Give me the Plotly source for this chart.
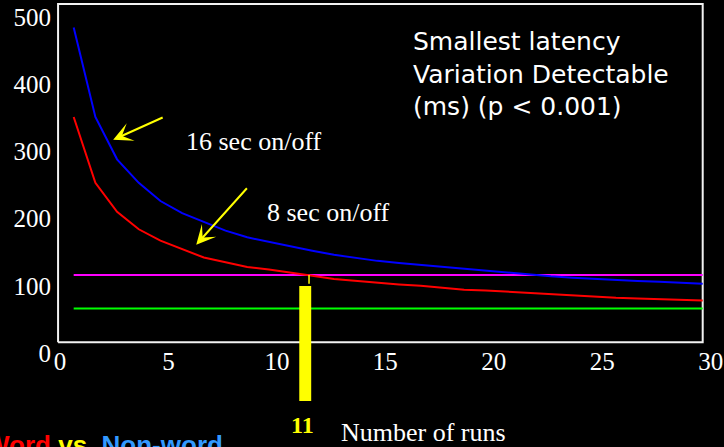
import plotly.graph_objects as go

# Data #
runs = list(range(1, 31))
latency_16s = [484, 351, 288, 253, 226, 208, 195, 182, 172, 165,
               158, 152, 146, 141, 137, 134, 131, 128, 125, 123,
               119, 116, 114, 112, 110, 109, 107, 106, 104, 103]
latency_8s = [351, 253, 210, 184, 167, 154, 142, 135, 128, 124,
              120, 115, 110, 107, 104, 102, 100, 97, 94, 93,
              91, 90, 88, 85, 84, 82, 81, 80, 79, 78]
word_effect = 116      # magenta level
other_effect = 66      # green level
crossing_run = 11
x_ticks = [0, 5, 10, 15, 20, 25, 30]
y_ticks = [0, 100, 200, 300, 400, 500]

# Page geometry (px) #
W, H = 724, 447
L, R, T, B = 52, 20, 2, 94
PW, PH = W - L - R, H - T - B
X_SCALE, Y_SCALE = 21.69, 0.6725   # px per unit


def px_x(px):
    return (px - L) / PW


def px_y(py):
    return (H - B - py) / PH


SERIF = "Liberation Serif"

fig = go.Figure()

# Frame outline (drawn as a plain line path) #
fx0, fx1, fy0, fy1 = 0.28, 30, 16, 519
fig.add_trace(go.Scatter(x=[fx0, fx1, fx1, fx0, fx0], y=[fy0, fy0, fy1, fy1, fy0],
                         mode="lines", line=dict(color="#f2f2f2", width=2), hoverinfo="skip"))

fig.add_trace(go.Scatter(x=[runs[0], runs[-1]], y=[word_effect, word_effect], mode="lines",
                         line=dict(color="#ff00ff", width=2), hoverinfo="skip"))
fig.add_trace(go.Scatter(x=[runs[0], runs[-1]], y=[other_effect, other_effect], mode="lines",
                         line=dict(color="#00ff00", width=2), hoverinfo="skip"))
fig.add_trace(go.Scatter(x=runs, y=latency_16s, mode="lines", name="16 sec on/off",
                         line=dict(color="#0000ff", width=2)))
fig.add_trace(go.Scatter(x=runs, y=latency_8s, mode="lines", name="8 sec on/off",
                         line=dict(color="#ff0000", width=2)))

# Yellow marker at 11 runs #
fig.add_shape(type="rect", xref="x", yref="paper",
              x0=crossing_run + 0.4, x1=crossing_run + 0.95, y0=px_y(401), y1=px_y(286),
              fillcolor="#ffff00", line=dict(width=0))
fig.add_shape(type="line", xref="x", yref="y",
              x0=crossing_run + 0.85, x1=crossing_run + 0.85, y0=word_effect, y1=103,
              line=dict(color="#ffff00", width=1.5))

# Arrows #
fig.add_annotation(x=2.82, y=317, ax=51, ay=-23, text="", showarrow=True,
                   arrowhead=3, arrowsize=1.6, arrowwidth=2, arrowcolor="#ffff00", standoff=0)
fig.add_annotation(x=6.65, y=161, ax=52, ay=-58, text="", showarrow=True,
                   arrowhead=3, arrowsize=1.6, arrowwidth=2, arrowcolor="#ffff00", standoff=0)

# Texts #
fig.add_annotation(xref="paper", yref="paper", x=px_x(411), y=px_y(74),
                   xanchor="left", yanchor="middle", align="left", showarrow=False,
                   text="Smallest latency<br>Variation Detectable<br>(ms) (p &lt; 0.001)",
                   font=dict(family="DejaVu Sans", size=25, color="white"))
fig.add_annotation(xref="paper", yref="paper", x=px_x(184), y=px_y(142),
                   xanchor="left", yanchor="middle", showarrow=False,
                   text="16 sec on/off", font=dict(family=SERIF, size=26, color="white"))
fig.add_annotation(xref="paper", yref="paper", x=px_x(265), y=px_y(212),
                   xanchor="left", yanchor="middle", showarrow=False,
                   text="8 sec on/off", font=dict(family=SERIF, size=26, color="white"))
fig.add_annotation(xref="paper", yref="paper", x=px_x(302), y=px_y(425),
                   xanchor="center", yanchor="middle", showarrow=False,
                   text="<b>%d</b>" % crossing_run, font=dict(family=SERIF, size=24, color="#ffff00"))
fig.add_annotation(xref="paper", yref="paper", x=px_x(339), y=px_y(432),
                   xanchor="left", yanchor="middle", showarrow=False,
                   text="Number of runs", font=dict(family=SERIF, size=26, color="white"))
fig.add_annotation(xref="paper", yref="paper", x=px_x(225), y=px_y(445),
                   xanchor="right", yanchor="middle", showarrow=False,
                   text="<b><span style='color:#ff0000'>Word</span> "
                        "<span style='color:#ffff00'>vs.</span> "
                        "<span style='color:#3399ff'>Non-word</span></b>",
                   font=dict(family="Liberation Sans", size=26, color="white"))

# Layout #
fig.update_layout(width=W, height=H, margin=dict(l=L, r=R, t=T, b=B),
                  paper_bgcolor="black", plot_bgcolor="black", showlegend=False,
                  font=dict(family=SERIF, color="white"))

fig.update_xaxes(range=[0, PW / X_SCALE], tickvals=x_ticks, showgrid=False, zeroline=False,
                 showline=False, ticks="", tickfont=dict(family=SERIF, size=25, color="white"),
                 ticklabelshift=8, ticklabelstandoff=-9)
fig.update_yaxes(range=[0, PH / Y_SCALE], tickvals=y_ticks, showgrid=False, zeroline=False,
                 showline=False, ticks="", tickfont=dict(family=SERIF, size=25, color="white"))

fig.write_html("out.html", config={"displayModeBar": False},
               post_script="document.body.style.margin='0';document.body.style.background='black';")
